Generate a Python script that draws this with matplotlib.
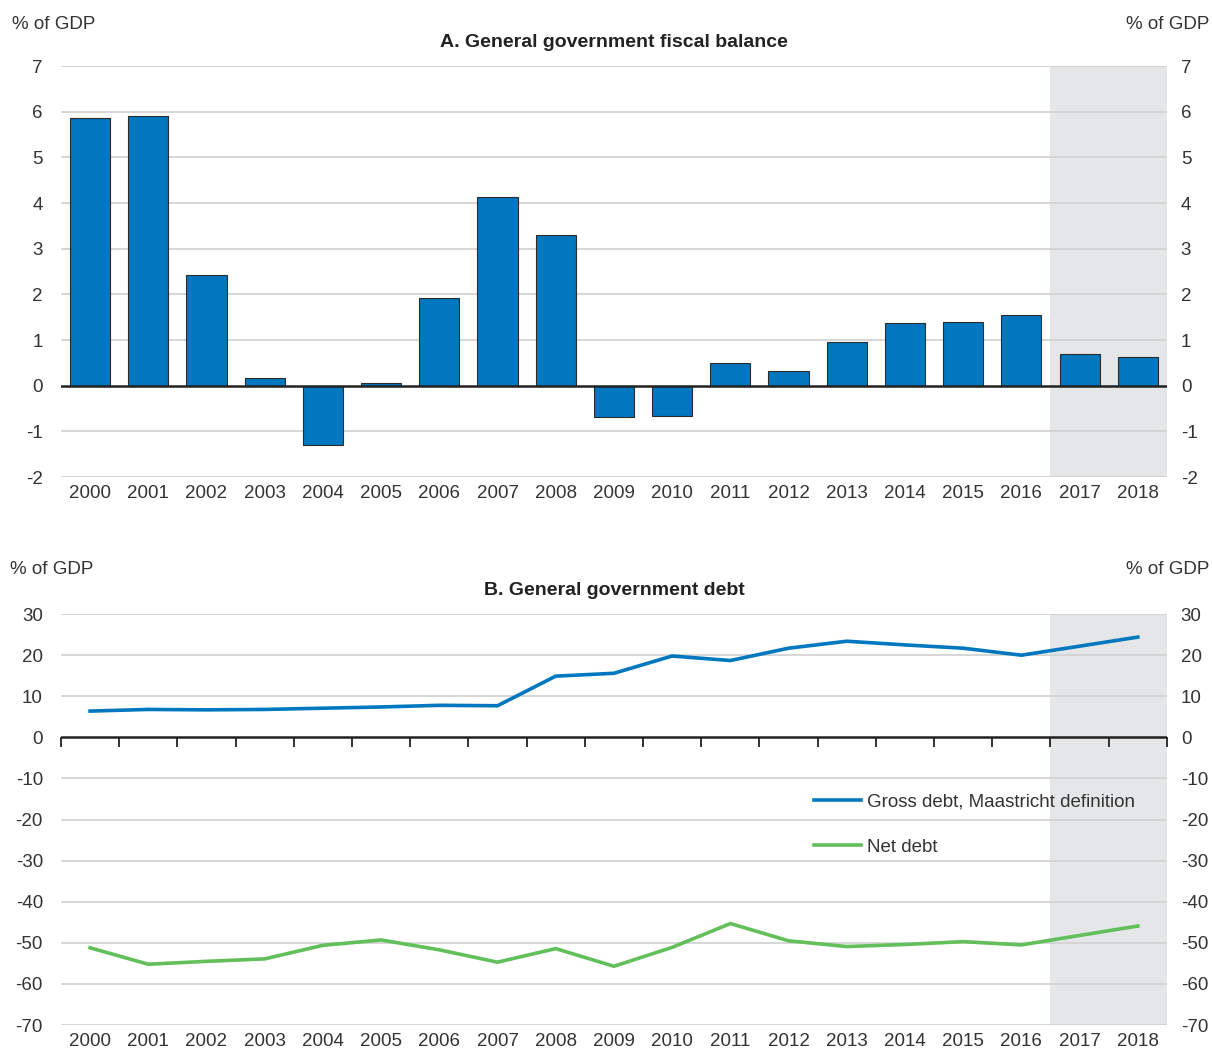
import numpy as np
import matplotlib
matplotlib.use("Agg")
import matplotlib.pyplot as plt
from matplotlib import font_manager

names = {f.name for f in font_manager.fontManager.ttflist}
fams = [f for f in ['Liberation Sans Narrow', 'DejaVu Sans Condensed', 'Liberation Sans'] if f in names]
plt.rcParams['font.family'] = fams + ['DejaVu Sans']
narrow = fams and fams[0] != 'Liberation Sans'

years = [str(y) for y in range(2000, 2019)]
balance = [5.87, 5.91, 2.43, 0.18, -1.29, 0.07, 1.93, 4.14, 3.30, -0.68, -0.66,
           0.50, 0.33, 0.96, 1.38, 1.40, 1.55, 0.70, 0.63]
gross_debt = [6.4, 6.8, 6.7, 6.8, 7.1, 7.4, 7.8, 7.7, 14.9, 15.6, 19.8,
              18.7, 21.7, 23.4, 22.5, 21.7, 20.0, 22.2, 24.4]
net_debt = [-51.2, -55.2, -54.5, -53.9, -50.6, -49.3, -51.7, -54.7, -51.4, -55.7, -51.1,
            -45.3, -49.5, -50.9, -50.4, -49.7, -50.5, -48.2, -45.9]

BLUE = '#0077be'
GREEN = '#62bf5a'
SHADE = '#e5e6e8'
GRID = '#d3d3d3'
TXT = '#333333'
FS = 14.5 if narrow else 13.5

x = np.arange(len(years))
proj_start = len(years) - 2.5

fig = plt.figure(figsize=(12.12, 10.51), dpi=100)
ax1 = fig.add_axes([0.0503, 0.5461, 0.9125, 0.391])
ax2 = fig.add_axes([0.0503, 0.0247, 0.9125, 0.391])


def style(ax, ticks, lims):
    ax.set_xlim(-0.5, len(years) - 0.5)
    ax.set_ylim(*lims)
    ax.set_yticks(ticks)
    ax.set_yticklabels([str(t) for t in ticks])
    ax.axvspan(proj_start, len(years) - 0.5, color=SHADE, zorder=0, lw=0)
    for t in ticks:
        if t != 0:
            ax.axhline(t, color=GRID, lw=1.3, zorder=0.5)
    ax.axhline(0, color='#222222', lw=1.8, zorder=3)
    for s in ax.spines.values():
        s.set_visible(False)
    ax.set_xticks(x)
    ax.set_xticklabels(years)
    ax.tick_params(axis='x', length=0, pad=6, labelsize=FS, colors=TXT)
    ax.tick_params(axis='y', length=0, pad=13, labelsize=FS, colors=TXT)
    # right-hand copy of the value axis
    ry = ax.secondary_yaxis('right')
    ry.set_yticks(ticks)
    ry.set_yticklabels([str(t) for t in ticks])
    ry.tick_params(axis='y', length=0, pad=10, labelsize=FS, colors=TXT)
    ry.spines['right'].set_visible(False)


# Panel A
style(ax1, list(range(-2, 8)), (-2, 7))
ax1.bar(x, balance, width=0.69, color=BLUE, edgecolor='#2b2b2b', lw=0.8, zorder=2)
ax1.set_title('A. General government fiscal balance', fontsize=FS + 0.5, fontweight='bold',
              color='#222222', pad=14)
fig.text(0.010, 0.977, '% of GDP', fontsize=FS, color=TXT, ha='left', va='center')
fig.text(0.998, 0.977, '% of GDP', fontsize=FS, color=TXT, ha='right', va='center')

# Panel B
style(ax2, list(range(-70, 31, 10)), (-70, 30))
ax2.plot(x, gross_debt, color=BLUE, lw=2.6, zorder=4, label='Gross debt, Maastricht definition')
ax2.plot(x, net_debt, color=GREEN, lw=2.6, zorder=4, label='Net debt')
sec = ax2.secondary_xaxis(0.7)
sec.set_xticks(np.arange(-0.5, len(years), 1.0))
sec.tick_params(axis='x', direction='in', length=7, width=1.3, color='#222222',
                labelbottom=False, labeltop=False, labelsize=0)
sec.spines['bottom'].set_visible(False)
sec.spines['top'].set_visible(False)
ax2.set_title('B. General government debt', fontsize=FS + 0.5, fontweight='bold',
              color='#222222', pad=14)
fig.text(0.008, 0.458, '% of GDP', fontsize=FS, color=TXT, ha='left', va='center')
fig.text(0.998, 0.458, '% of GDP', fontsize=FS, color=TXT, ha='right', va='center')
leg = ax2.legend(loc='upper left', bbox_to_anchor=(0.666, 0.605), frameon=False,
                 fontsize=FS, handlelength=2.5, handletextpad=0.3, labelspacing=1.5)
for t in leg.get_texts():
    t.set_color(TXT)

fig.savefig('out.png', dpi=100)
